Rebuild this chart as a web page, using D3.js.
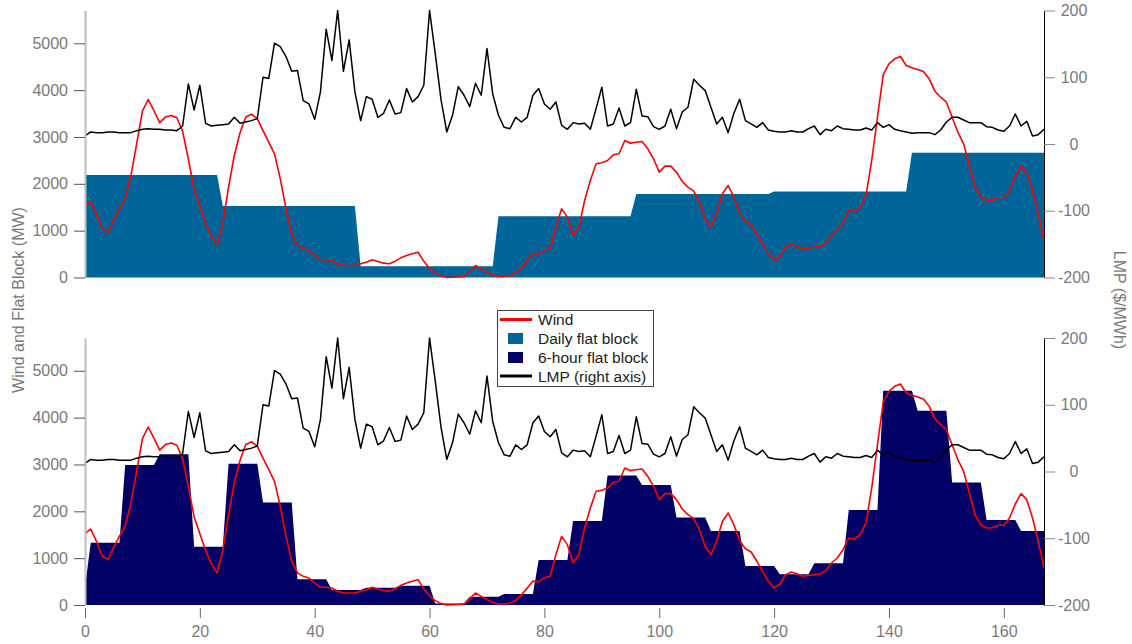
<!DOCTYPE html>
<html><head><meta charset="utf-8">
<script src="https://cdn.jsdelivr.net/npm/d3@7"></script>
<style>
body{margin:0;background:#fff;}
svg text{font-family:"Liberation Sans",Arial,sans-serif;}
</style>
</head><body>
<svg id="chart" width="1132" height="644"></svg>
<script>
// ---- data (hourly, hour 0..167) ----
const wind = [1530,1620,1360,1040,970,1230,1470,1680,2180,2855,3550,3800,3565,3305,3425,3460,3410,3120,2530,1880,
1520,1165,880,685,1165,1930,2605,3090,3425,3485,3390,3135,2890,2640,2110,1470,935,685,612,575,
470,378,378,363,292,256,256,256,292,327,380,342,306,292,349,420,470,505,541,345,
190,93,30,0,5,10,21,135,256,185,114,55,21,21,40,100,220,360,510,500,
580,612,1074,1466,1288,900,1074,1644,2071,2427,2449,2498,2619,2641,2925,2868,2889,2904,2748,2534,
2249,2377,2377,2249,2050,1928,1843,1608,1253,1074,1360,1787,1964,1714,1375,1200,1131,933,719,506,
363,448,647,704,669,612,633,647,662,733,897,1003,1181,1430,1409,1501,1751,2498,3422,4330,
4562,4669,4718,4526,4477,4441,4398,4242,3977,3849,3743,3422,3102,2854,2391,1928,1714,1644,1650,1701,
1701,1857,2156,2377,2249,1857,1360,790];

const lmp = [12,18,17,17,18,18,17,17,17,20,22,23,22,22,21,21,20,27,90,51,
88,31,27,28,29,30,40,31,33,35,38,100,98,151,146,131,109,110,65,60,
37,78,172,125,200,109,156,78,35,71,67,40,46,66,45,47,83,63,71,88,
200,135,66,18,43,86,73,56,91,73,143,75,43,25,23,40,33,40,73,83,
60,52,63,28,22,32,30,31,22,53,85,27,30,54,27,32,82,42,41,26,
22,27,52,23,48,55,97,88,80,55,30,40,17,46,67,35,30,25,32,21,
19,18,18,20,18,18,23,27,14,22,20,27,23,22,21,21,24,21,32,25,
29,22,20,18,16,17,17,17,14,21,33,40,40,36,32,32,32,26,25,21,
19,27,45,27,34,12,14,22];

const dailyBlock = [2190, 1524, 241, 1310, 1780, 1838, 2662];          // one value per day (24 h)
const sixHourFirst = 380;                                              // hour 0
const sixHourBlock = [1331,2991,3220,1246,3013,2186,549,320,370,412,30,178,235,962,
                      1795,2763,2564,1866,1581,833,656,891,2030,4573,4145,2613,1816,1581]; // hours 1-6, 7-12, ...

const xTicks = [0,20,40,60,80,100,120,140,160];
const leftTicks = [0,1000,2000,3000,4000,5000];
const rightTicks = [-200,-100,0,100,200];
const legendLabels = ["Wind","Daily flat block","6-hour flat block","LMP (right axis)"];

const hours = wind.map((_, h) => h);
const dailyHourly = hours.map(h => dailyBlock[Math.floor(h / 24)]);
const sixHourly = hours.map(h => h === 0 ? sixHourFirst : sixHourBlock[Math.floor((h - 1) / 6)]);

// ---- layout ----
const svg = d3.select("#chart");
const X0 = 85, X1 = 1044;
const x = d3.scaleLinear().domain([0, 167]).range([X0, X1]);
const panels = [
  {top: 10.5, bottom: 277.5, block: dailyHourly, color: "#006699"},
  {top: 338, bottom: 605, block: sixHourly, color: "#000066"}
];
const C = {wind: "#ff0000", lmp: "#000000", tick: "#8a8a8a", text: "#7a7a7a"};

panels.forEach((p, i) => {
  const yL = d3.scaleLinear().domain([0, 5700]).range([p.bottom, p.top]);
  const yR = d3.scaleLinear().domain([-200, 200]).range([p.bottom, p.top]);
  const g = svg.append("g");

  g.append("path").datum(hours)
    .attr("fill", p.color)
    .attr("d", d3.area().x(h => x(h)).y0(yL(0)).y1(h => yL(p.block[h])));

  g.append("path").datum(hours)
    .attr("fill", "none").attr("stroke", C.wind).attr("stroke-width", 1.6)
    .attr("stroke-linejoin", "round")
    .attr("d", d3.line().x(h => x(h)).y(h => yL(wind[h])));

  g.append("path").datum(hours)
    .attr("fill", "none").attr("stroke", C.lmp).attr("stroke-width", 1.5)
    .attr("stroke-linejoin", "round")
    .attr("d", d3.line().x(h => x(h)).y(h => yR(lmp[h])));

  // left axis
  const ax = g.append("g").attr("transform", `translate(${X0},0)`)
    .call(d3.axisLeft(yL).tickValues(leftTicks).tickSize(11).tickSizeOuter(0).tickPadding(6).tickFormat(d => String(d)));
  ax.select(".domain").attr("stroke", "#bdbdbd").attr("stroke-width", 2);
  ax.selectAll(".tick line").attr("stroke", "#555");
  ax.selectAll("text").attr("fill", C.text).style("font-size", "16px");

  // right axis
  const ar = g.append("g").attr("transform", `translate(${X1},0)`)
    .call(d3.axisRight(yR).tickValues(rightTicks).tickSize(11).tickSizeOuter(0).tickFormat(d => String(d)));
  ar.select(".domain").attr("stroke", "#000").attr("stroke-width", 1);
  ar.selectAll(".tick line").attr("stroke", "#888");
  ar.selectAll("text").attr("fill", C.text).style("font-size", "16px")
    .attr("text-anchor", "middle").attr("x", 30);

  if (i === 1) {
    const axb = g.append("g").attr("transform", `translate(0,608)`)
      .call(d3.axisBottom(x).tickValues(xTicks).tickSize(10).tickPadding(8).tickFormat(d => String(d)));
    axb.select(".domain").remove();
    axb.selectAll(".tick line").attr("stroke", "#666");
    axb.selectAll("text").attr("fill", C.text).style("font-size", "16px");
  }
});

// axis titles
svg.append("text").attr("transform", "translate(24,300) rotate(-90)")
  .attr("text-anchor", "middle").attr("fill", C.text).style("font-size", "16px")
  .text("Wind and Flat Block (MW)");
svg.append("text").attr("transform", "translate(1114,300) rotate(90)")
  .attr("text-anchor", "middle").attr("fill", C.text).style("font-size", "16px")
  .text("LMP ($/MWh)");

// legend
const lg = svg.append("g");
lg.append("rect").attr("x", 497.5).attr("y", 310.5).attr("width", 156).attr("height", 76)
  .attr("fill", "#fff").attr("stroke", "#444").attr("stroke-width", 1);
const rowY = [319.5, 338.5, 357.5, 376];
const kinds = [
  {type: "line", color: C.wind},
  {type: "rect", color: "#006699"},
  {type: "rect", color: "#000066"},
  {type: "line", color: C.lmp}
];
legendLabels.forEach((lab, i) => {
  const k = kinds[i], cy = rowY[i];
  if (k.type === "line") {
    lg.append("line").attr("x1", 500).attr("x2", 532).attr("y1", cy).attr("y2", cy)
      .attr("stroke", k.color).attr("stroke-width", 3);
  } else {
    lg.append("rect").attr("x", 508).attr("y", cy - 5.5).attr("width", 15).attr("height", 11)
      .attr("fill", k.color);
  }
  lg.append("text").attr("x", 538).attr("y", cy).attr("dy", "0.36em")
    .attr("fill", "#222").style("font-size", "15.5px").text(lab);
});
</script>
</body></html>
